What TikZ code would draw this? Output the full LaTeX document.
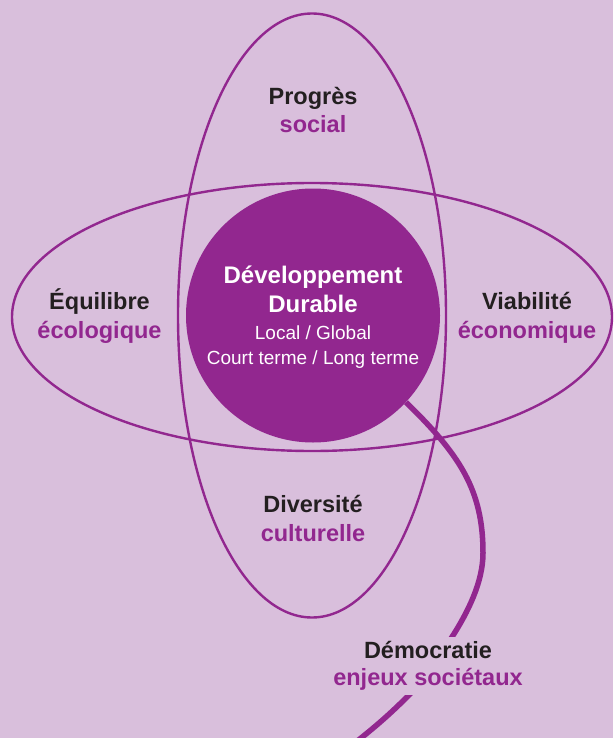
\documentclass[tikz,border=0pt]{standalone}
\usepackage{fontspec}
\setmainfont{Liberation Sans}
\definecolor{bgc}{HTML}{D9BFDC}
\definecolor{pur}{HTML}{92278F}
\definecolor{ink}{HTML}{231F20}
\begin{document}
\begin{tikzpicture}[x=1pt,y=-1pt,
  ring/.style={draw=pur, line width=2.4pt},
  stem/.style={draw=pur, line width=5.5pt},
  lbl/.style={font=\bfseries\fontsize{23.5}{28}\selectfont, inner sep=0pt, anchor=base},
  head/.style={lbl, text=ink},
  sub/.style={lbl, text=pur},
  core/.style={circle, fill=pur, minimum size=254pt, inner sep=0pt},
  ctitle/.style={font=\bfseries\fontsize{24}{28}\selectfont, text=white, inner sep=0pt, anchor=base},
  cline/.style={font=\fontsize{19}{24}\selectfont, text=white, inner sep=0pt, anchor=base}]
\useasboundingbox (0,0) rectangle (613,738);
\fill[bgc] (0,0) rectangle (613,738);
% ellipses
\draw[ring] (312,317) ellipse [x radius=300pt, y radius=134pt];
\draw[ring] (312,315.5) ellipse [x radius=134pt, y radius=302pt];
% core circle
\node[core] (dd) at (313,315.5) {};
% stem curve
\coordinate (k1) at (483,553);
\coordinate (k2) at (452,637);
\coordinate (k3) at (407,697);
\coordinate (kend) at (356,742);
\draw[stem] (dd.-43) .. controls (460,455) and (483,490) .. (k1)
  .. controls (483,582) and (468,612) .. (k2)
  .. controls (436,660) and (424,680) .. (k3)
  .. controls (390,714) and (375,727) .. (kend);
% centre text
\node[ctitle] (t1) at (313,283) {Développement};
\node[ctitle] (t2) at (313,312) {Durable};
\node[cline] (t3) at (313,339) {Local / Global};
\node[cline] (t4) at (313,364) {Court terme / Long terme};
% labels
\node[head] (p1) at (313,105) {Progrès};
\node[sub]  (p2) at (313,133) {social};
\node[head] (e1) at (99.5,309) {Équilibre};
\node[sub]  (e2) at (99.5,338) {écologique};
\node[head] (v1) at (527,309) {Viabilité};
\node[sub]  (v2) at (527,338) {économique};
\node[head] (d1) at (313,512) {Diversité};
\node[sub]  (d2) at (313,541) {culturelle};
\node[head, fill=bgc, text height=21pt, text depth=13.5pt] (m1) at (428,658) {Démocratie};
\node[sub, fill=bgc, text height=13.5pt, text depth=10pt] (m2) at (428,685) {enjeux sociétaux};
\end{tikzpicture}
\end{document}
